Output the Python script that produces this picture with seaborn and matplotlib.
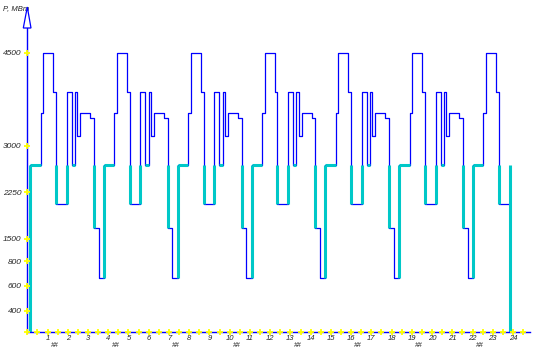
import numpy as np
import pandas as pd
import matplotlib
matplotlib.use("Agg")
import matplotlib.pyplot as plt
import seaborn as sns
from matplotlib.patches import Polygon
from matplotlib.transforms import blended_transform_factory

# ---- data: start time (h) of each step and load level (MW) for that step ----
step_time = [
    0.000, 0.133,
    0.662, 0.791, 1.285, 1.418, 1.947, 2.194, 2.357, 2.470, 2.619, 3.113, 3.295, 3.528, 3.790,
    4.308, 4.437, 4.931, 5.064, 5.593, 5.840, 6.003, 6.117, 6.265, 6.759, 6.942, 7.174, 7.436,
    7.954, 8.083, 8.577, 8.710, 9.239, 9.486, 9.649, 9.763, 9.911, 10.405, 10.588, 10.820, 11.082,
    11.601, 11.729, 12.223, 12.357, 12.885, 13.132, 13.295, 13.409, 13.557, 14.051, 14.234, 14.466, 14.728,
    15.247, 15.375, 15.869, 16.003, 16.531, 16.779, 16.942, 17.055, 17.203, 17.697, 17.880, 18.113, 18.374,
    18.893, 19.022, 19.516, 19.649, 20.178, 20.425, 20.588, 20.701, 20.850, 21.344, 21.526, 21.759, 22.021,
    22.539, 22.668, 23.162, 23.295, 23.849,
]
step_load = [
    0, 2700,
    3532, 4500, 3870, 2065, 3870, 2700, 3870, 3165, 3537, 3455, 1677, 875, 2700,
    3532, 4500, 3870, 2065, 3870, 2700, 3870, 3165, 3537, 3455, 1677, 875, 2700,
    3532, 4500, 3870, 2065, 3870, 2700, 3870, 3165, 3537, 3455, 1677, 875, 2700,
    3532, 4500, 3870, 2065, 3870, 2700, 3870, 3165, 3537, 3455, 1677, 875, 2700,
    3532, 4500, 3870, 2065, 3870, 2700, 3870, 3165, 3537, 3455, 1677, 875, 2700,
    3532, 4500, 3870, 2065, 3870, 2700, 3870, 3165, 3537, 3455, 1677, 875, 2700,
    3532, 4500, 3870, 2065, 0,
]
base_level = 2700

y_tick_values = [4500, 3000, 2250, 1500, 1145, 742, 339]
y_tick_labels = ["4500", "3000", "2250", "1500", "800", "600", "400"]
x_tick_values = list(range(1, 25))
x_tick_labels = [str(v) for v in x_tick_values]
x_sub_ticks = [1, 4, 7, 10, 13, 16, 19, 22]
x_minor = [i * 0.5 for i in range(0, 50)]

BLUE = "#0000FF"
CYAN = "#00C8C8"
YELLOW = "#FFFF00"

sns.set_style("white")
plt.rcParams["font.family"] = ["Liberation Sans", "DejaVu Sans"]

W, H = 535, 356
fig = plt.figure(figsize=(W / 100, H / 100), dpi=100)
ax = fig.add_axes([27.3 / W, 24 / H, 502.7 / W, 304 / H])

df = pd.DataFrame({"t": step_time, "p": step_load})
sns.lineplot(data=df, x="t", y="p", drawstyle="steps-post", estimator=None,
             sort=False, color=BLUE, linewidth=0.9, ax=ax, zorder=2)

# cyan base-level contour
t = np.array(step_time)
p = np.array(step_load)
vx, vlo = [], []
for i in range(1, len(p)):
    a, b = p[i - 1], p[i]
    lo, hi = min(a, b), max(a, b)
    if lo < base_level and (hi >= base_level or lo == 0):
        vx.append(t[i]); vlo.append(lo)
ax.vlines(vx, vlo, base_level, color=CYAN, linewidth=2.2, zorder=3)
hx0 = [t[i] for i in range(len(p) - 1) if p[i] == base_level]
hx1 = [t[i + 1] for i in range(len(p) - 1) if p[i] == base_level]
ax.hlines([base_level] * len(hx0), hx0, hx1, color=CYAN, linewidth=2.2, zorder=3)

ax.set_xlim(0, 24.84)
ax.set_ylim(0, 4903)
ax.set_xlabel("")
ax.set_ylabel("")
for s in ["top", "right"]:
    ax.spines[s].set_visible(False)
for s in ["left", "bottom"]:
    ax.spines[s].set_color(BLUE)
    ax.spines[s].set_linewidth(1.0)
    ax.spines[s].set_zorder(4)

ax.set_yticks(y_tick_values)
ax.set_yticklabels(y_tick_labels, fontsize=6, style="italic")
ax.set_xticks(x_tick_values)
ax.set_xticklabels(x_tick_labels, fontsize=5.5, style="italic")
ax.tick_params(axis="y", length=0, pad=4)
ax.tick_params(axis="x", length=0, pad=2.5)

# yellow tick markers on axes
ax.plot(x_minor, [0] * len(x_minor), linestyle="none", marker="+", markersize=5,
        markeredgewidth=1.3, color=YELLOW, clip_on=False, zorder=5)
ax.plot([0] * len(y_tick_values), y_tick_values, linestyle="none", marker="+",
        markersize=5, markeredgewidth=1.3, color=YELLOW, clip_on=False, zorder=5)

# sub-labels under some hour ticks
tr = blended_transform_factory(ax.transData, ax.transAxes)
for v in x_sub_ticks:
    ax.text(v + 0.35, -0.046, "##", transform=tr, fontsize=5, style="italic",
            ha="center", va="center")

# arrow head on y axis
arrow = Polygon([(23.3 / W, 1 - 28 / H), (31 / W, 1 - 28 / H), (27.3 / W, 1 - 7 / H)],
                closed=True, facecolor="white", edgecolor=BLUE, linewidth=0.9,
                transform=fig.transFigure, zorder=6)
fig.patches.append(arrow)
fig.text(3 / W, 1 - 9 / H, "P, МВт", fontsize=5.5, style="italic", va="center", ha="left")

fig.savefig("out.png", dpi=100, facecolor="white")
